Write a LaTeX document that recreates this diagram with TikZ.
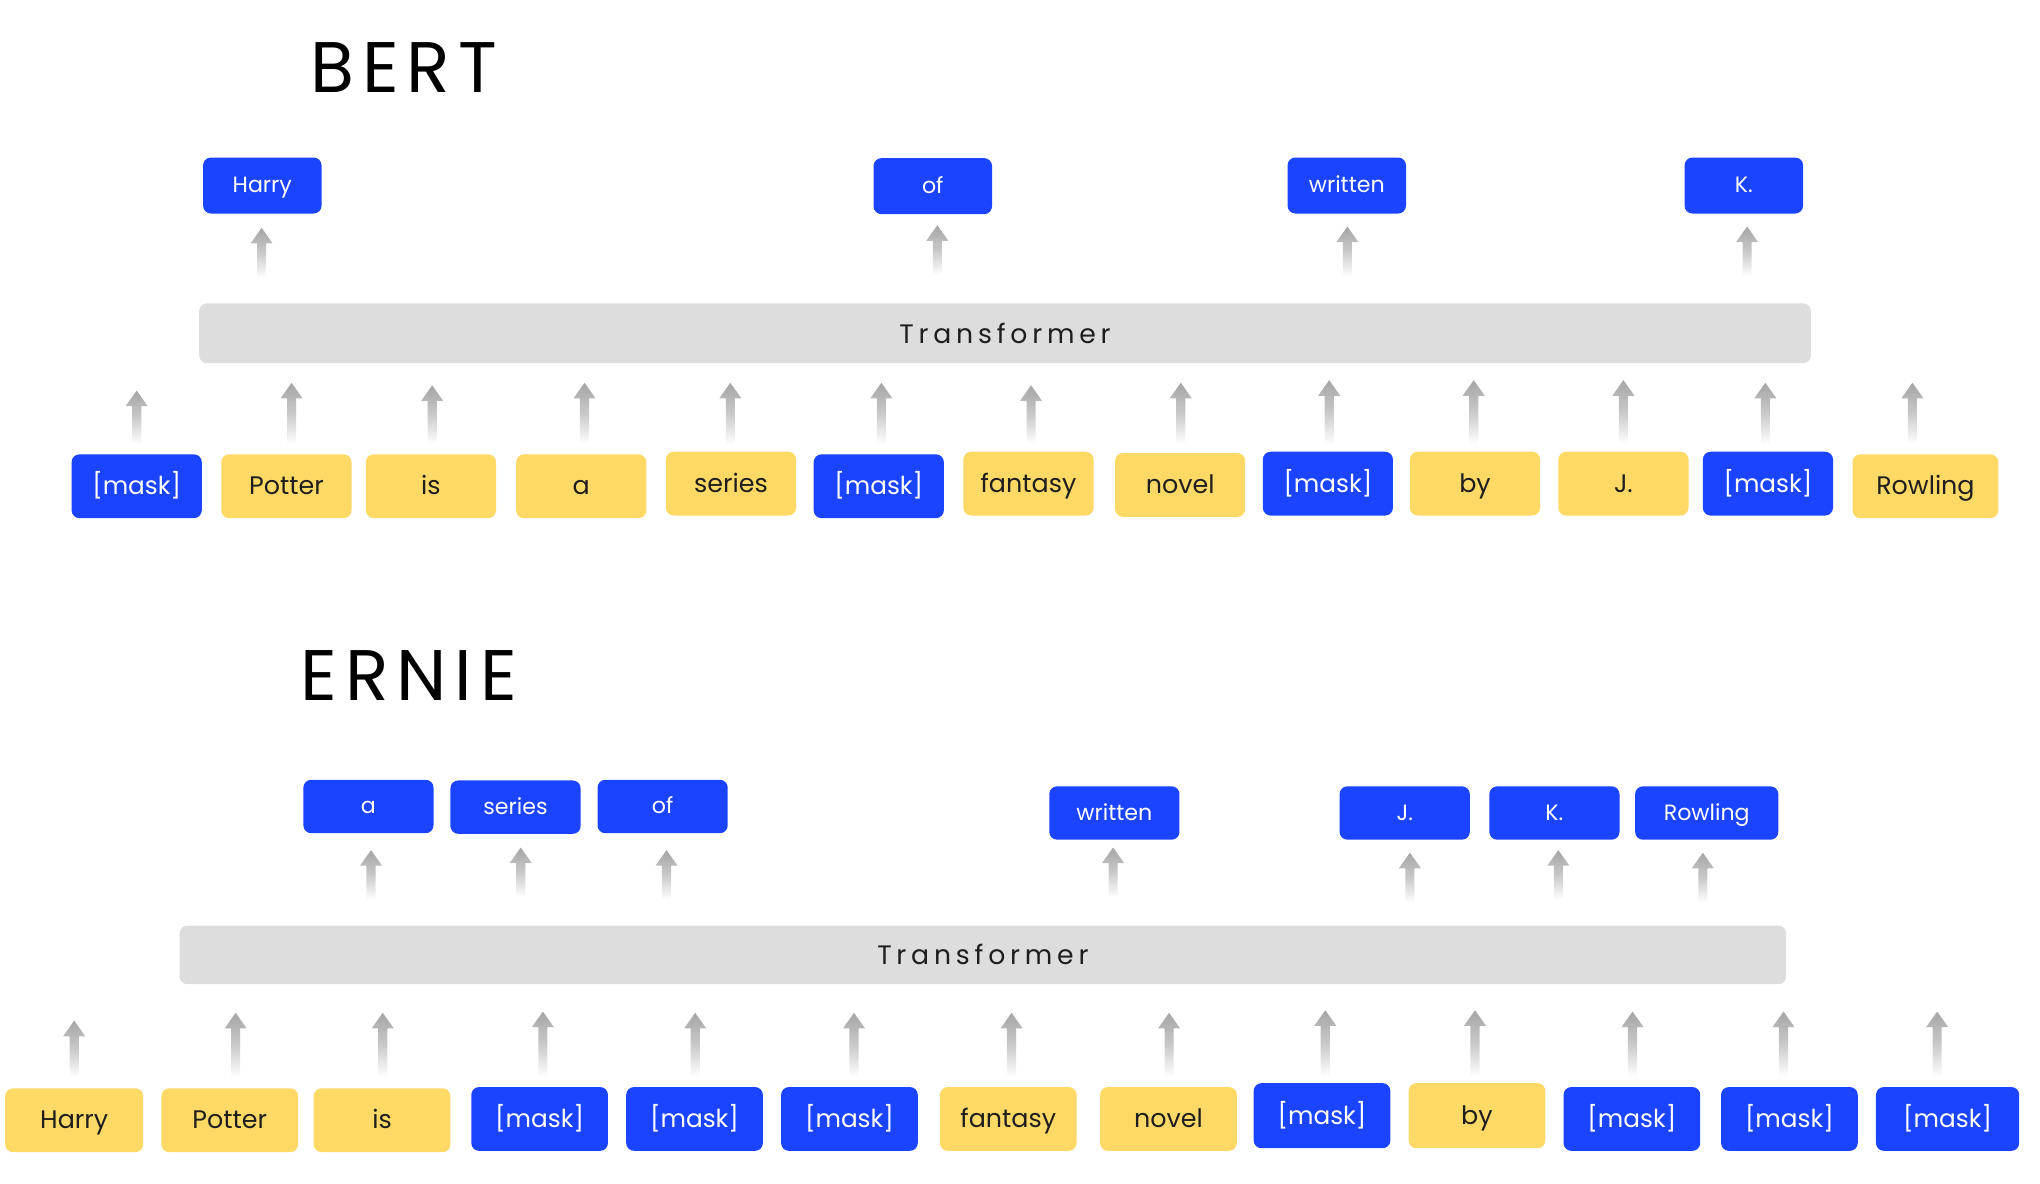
\documentclass[tikz,border=0pt]{standalone}
\usepackage{fontspec}
\setmainfont{Poppins}
\newfontfamily\titlefont[LetterSpace=11]{Poppins}
\newfontfamily\tffont[LetterSpace=18]{Poppins}
\definecolor{mblue}{RGB}{26,68,255}
\definecolor{myel}{RGB}{255,217,102}
\definecolor{bargray}{RGB}{221,221,221}
\definecolor{arrgray}{RGB}{165,165,165}
\definecolor{dtext}{RGB}{30,30,30}
\tikzset{
  bbox/.style={fill=mblue, text=white, rounded corners=6pt, inner sep=0pt, text height=12.5pt, text depth=1.5pt, font=\fontsize{17}{20}\selectfont},
  ybox/.style={fill=myel, text=dtext, rounded corners=6pt, inner sep=0pt, text height=15pt, text depth=2pt, font=\fontsize{19.5}{22}\selectfont},
  mbox/.style={fill=mblue, text=white, rounded corners=6pt, inner sep=0pt, text height=15pt, text depth=2pt, font=\fontsize{19}{22}\selectfont},
  ibox/.style={minimum width=100pt, minimum height=49pt},
  obox/.style={minimum width=91pt, minimum height=43pt},
  tfbar/.style={fill=bargray, rounded corners=6pt, inner sep=0pt, font=\tffont\fontsize{20.5}{24}\selectfont, text=dtext},
  ttl/.style={font=\titlefont\fontsize{55}{60}\selectfont, text=black, inner sep=0pt}
}
\newcommand\garrow[3]{%
  \shade[top color=arrgray, bottom color=white, middle color=arrgray!60]
    (#1-3.5,#3) -- (#1-3.5,#2+12) -- (#1-8.5,#2+12) -- (#1,#2) -- (#1+8.5,#2+12) -- (#1+3.5,#2+12) -- (#1+3.5,#3) -- cycle;}
\begin{document}
\begin{tikzpicture}[x=1pt,y=-1pt]
\useasboundingbox (0,0) rectangle (1567,909.4);
% ---------------- BERT ----------------
\node[ttl] (bert) at (310,52) {BERT};
\node[bbox,obox] (bo1) at (201.5,142.5) {Harry};
\node[bbox,obox] (bo2) at (716.5,143) {of};
\node[bbox,obox] (bo3) at (1034.5,142.5) {written};
\node[bbox,obox] (bo4) at (1339.5,142.5) {K.};
\garrow{201}{175}{213}
\garrow{720}{173}{211}
\garrow{1035}{174}{212}
\garrow{1342}{174}{212}
\node[tfbar, minimum width=1238pt, minimum height=46pt] (btf) at (772,256) {Transformer};
\foreach \x/\t in {105/300,224/294,332/296,449/294,561/294,677/294,792/296,907/294,1021/292,1132/292,1247/292,1356/294,1469/294}{
  \garrow{\x}{\t}{341}
}
\node[mbox,ibox] (bi1) at (105,373.5) {[mask]};
\node[ybox,ibox] (bi2) at (220,373.5) {Potter};
\node[ybox,ibox] (bi3) at (331,373.5) {is};
\node[ybox,ibox] (bi4) at (446.5,373.5) {a};
\node[ybox,ibox] (bi5) at (561.5,371.5) {series};
\node[mbox,ibox] (bi6) at (675,373.5) {[mask]};
\node[ybox,ibox] (bi7) at (790,371.5) {fantasy};
\node[ybox,ibox] (bi8) at (906.5,372.5) {novel};
\node[mbox,ibox] (bi9) at (1020,371.5) {[mask]};
\node[ybox,ibox] (bi10) at (1133,371.5) {by};
\node[ybox,ibox] (bi11) at (1247,371.5) {J.};
\node[mbox,ibox] (bi12) at (1358,371.5) {[mask]};
\node[ybox,ibox,minimum width=112pt] (bi13) at (1479,373.5) {Rowling};
% ---------------- ERNIE ----------------
\node[ttl] (ernie) at (314,519) {ERNIE};
\node[bbox,minimum width=100pt,minimum height=41pt] (eo1) at (283,619.5) {a};
\node[bbox,minimum width=100pt,minimum height=41pt] (eo2) at (396,620) {series};
\node[bbox,minimum width=100pt,minimum height=41pt] (eo3) at (509,619.5) {of};
\node[bbox,minimum width=100pt,minimum height=41pt] (eo4) at (856,624.5) {written};
\node[bbox,minimum width=100pt,minimum height=41pt] (eo5) at (1079,624.5) {J.};
\node[bbox,minimum width=100pt,minimum height=41pt] (eo6) at (1194,624.5) {K.};
\node[bbox,minimum width=110pt,minimum height=41pt] (eo7) at (1311,624.5) {Rowling};
\garrow{285}{653}{691}
\garrow{400}{651}{689}
\garrow{512}{653}{691}
\garrow{855}{651}{689}
\garrow{1083}{655}{693}
\garrow{1197}{653}{691}
\garrow{1308}{655}{693}
\node[tfbar, minimum width=1234pt, minimum height=45pt] (etf) at (755,733.5) {Transformer};
\foreach \x/\t in {57/784,181/778,294/778,417/777,534/778,656/778,777/778,898/778,1018/776,1133/776,1254/777,1370/777,1488/777}{
  \garrow{\x}{\t}{827}
}
\node[ybox,minimum width=106pt,minimum height=49pt] (ei1) at (57,860.5) {Harry};
\node[ybox,minimum width=105pt,minimum height=49pt] (ei2) at (176.5,860.5) {Potter};
\node[ybox,minimum width=105pt,minimum height=49pt] (ei3) at (293.5,860.5) {is};
\node[mbox,minimum width=105pt,minimum height=49pt] (ei4) at (414.5,859.5) {[mask]};
\node[mbox,minimum width=105pt,minimum height=49pt] (ei5) at (533.5,859.5) {[mask]};
\node[mbox,minimum width=105pt,minimum height=49pt] (ei6) at (652.5,859.5) {[mask]};
\node[ybox,minimum width=105pt,minimum height=49pt] (ei7) at (774.5,859.5) {fantasy};
\node[ybox,minimum width=105pt,minimum height=49pt] (ei8) at (897.5,859.5) {novel};
\node[mbox,minimum width=105pt,minimum height=50pt] (ei9) at (1015.5,857) {[mask]};
\node[ybox,minimum width=105pt,minimum height=50pt] (ei10) at (1134.5,857) {by};
\node[mbox,minimum width=105pt,minimum height=49pt] (ei11) at (1253.5,859.5) {[mask]};
\node[mbox,minimum width=105pt,minimum height=49pt] (ei12) at (1374.5,859.5) {[mask]};
\node[mbox,minimum width=110pt,minimum height=49pt] (ei13) at (1496,859.5) {[mask]};
\end{tikzpicture}
\end{document}
